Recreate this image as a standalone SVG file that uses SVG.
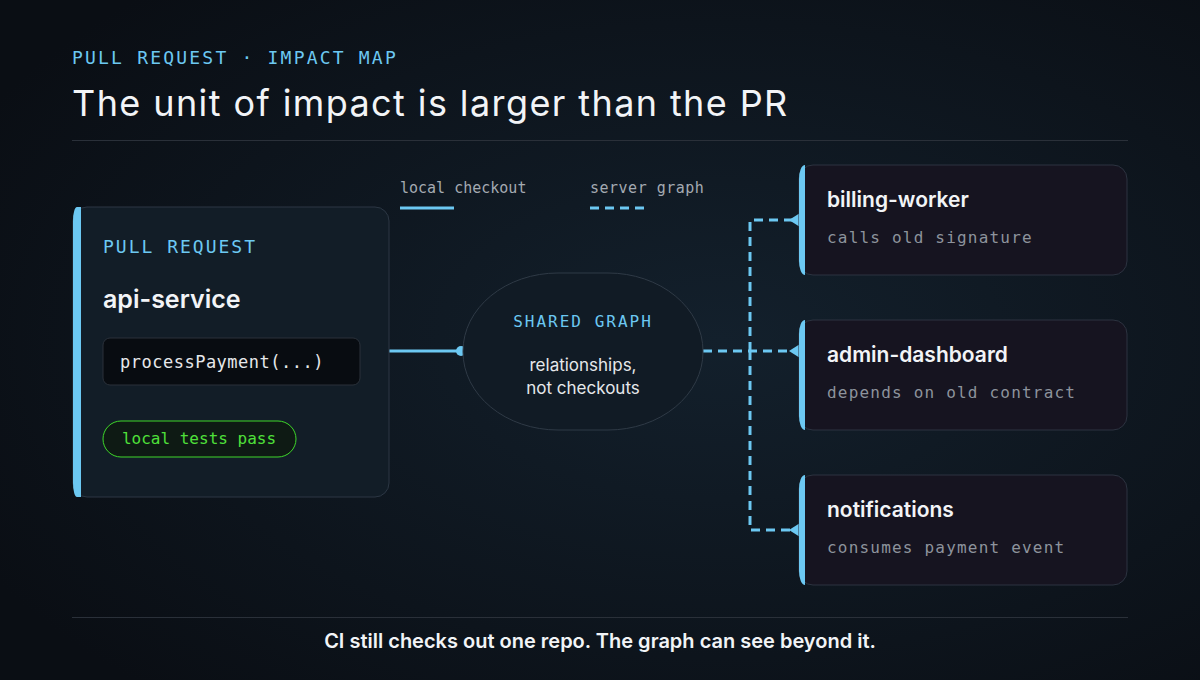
<svg xmlns="http://www.w3.org/2000/svg" width="1200" height="680" viewBox="0 0 1200 680">
<defs>
<radialGradient id="bg" cx="0.6" cy="0.5" r="0.7"><stop offset="0" stop-color="#13202c"/><stop offset="1" stop-color="#0a0e14"/></radialGradient>
<style>
.mono{font-family:"DejaVu Sans Mono","Liberation Mono",monospace}
.sans{font-family:Inter,"Noto Sans",sans-serif}
.card{fill:#161420;stroke:#2c3340;stroke-width:1}
.bar{fill:#6cc8f2}
.dash{stroke:#6cc8f2;stroke-width:3;fill:none;stroke-dasharray:9 6}
.title{font-size:21px;font-weight:600;fill:#f2f4f7}
.sub{font-size:16px;fill:#8d939c;letter-spacing:1.2px}
</style>
</defs>
<rect width="1200" height="680" fill="url(#bg)"/>
<text x="72" y="64" class="mono" font-size="18" fill="#6cc8f2" letter-spacing="2.2">PULL REQUEST · IMPACT MAP</text>
<text x="72" y="116" class="sans" font-size="36" fill="#f2f4f7" letter-spacing="1.4">The unit of impact is larger than the PR</text>
<line x1="72" y1="140.5" x2="1128" y2="140.5" stroke="#2a3039"/>
<text x="400" y="193" class="mono" font-size="15" fill="#a4aab2">local checkout</text>
<line x1="400" y1="208" x2="454" y2="208" stroke="#6cc8f2" stroke-width="3"/>
<text x="590" y="193" class="mono" font-size="15" fill="#a4aab2" letter-spacing="0.5">server graph</text>
<line x1="590" y1="208" x2="644" y2="208" class="dash" stroke-dasharray="8 6"/>
<g id="connectors">
<line x1="389" y1="351" x2="461" y2="351" stroke="#6cc8f2" stroke-width="3"/>
<circle cx="461" cy="351" r="5" fill="#6cc8f2"/>
<line x1="703" y1="351" x2="792" y2="351" class="dash"/>
<path d="M750,351 V220 H792" class="dash"/>
<path d="M750,351 V530 H792" class="dash"/>
<polygon points="789,220 800,213 800,227" fill="#6cc8f2"/>
<polygon points="789,351 800,344 800,358" fill="#6cc8f2"/>
<polygon points="789,530 800,523 800,537" fill="#6cc8f2"/>
</g>
<g id="pr">
<rect x="73" y="207" width="316" height="290" rx="14" fill="#121d27" stroke="#2c3744"/>
<path d="M77,207 h4 v290 h-4 a4,14 0 0 1 -4,-14 v-262 a4,14 0 0 1 4,-14z" class="bar"/>
<text x="103" y="253" class="mono" font-size="18" fill="#6cc8f2" letter-spacing="2">PULL REQUEST</text>
<text x="103" y="308" class="sans" font-size="25" font-weight="600" fill="#f2f4f7">api-service</text>
<rect x="103" y="338" width="257" height="47" rx="7" fill="#080c11" stroke="#2a313a"/>
<text x="120" y="368" class="mono" font-size="17" fill="#e6e8eb" letter-spacing="0.5">processPayment(...)</text>
<rect x="103" y="421" width="193" height="36" rx="18" fill="#0e1a14" stroke="#3ed62a"/>
<text x="199" y="444" class="mono" font-size="16" fill="#4fe03a" text-anchor="middle">local tests pass</text>
</g>
<g id="shared">
<rect x="463" y="273" width="240" height="157" rx="95" ry="78" fill="#111b25" stroke="#2f3a46"/>
<text x="583" y="327" class="mono" font-size="16" fill="#6cc8f2" letter-spacing="2" text-anchor="middle">SHARED GRAPH</text>
<text x="583" y="371" class="sans" font-size="17" fill="#e6e8eb" text-anchor="middle">relationships,</text>
<text x="583" y="394" class="sans" font-size="17" fill="#e6e8eb" text-anchor="middle">not checkouts</text>
</g>
<g id="billing">
<rect x="799" y="165" width="328" height="110" rx="14" class="card"/>
<path d="M805,165 a6,14 0 0 0 -6,14 v82 a6,14 0 0 0 6,14z" class="bar"/>
<text x="827" y="207" class="sans title">billing-worker</text>
<text x="827" y="243" class="mono sub">calls old signature</text>
</g>
<g id="admin">
<rect x="799" y="320" width="328" height="110" rx="14" class="card"/>
<path d="M805,320 a6,14 0 0 0 -6,14 v82 a6,14 0 0 0 6,14z" class="bar"/>
<text x="827" y="362" class="sans title">admin-dashboard</text>
<text x="827" y="398" class="mono sub">depends on old contract</text>
</g>
<g id="notifications">
<rect x="799" y="475" width="328" height="110" rx="14" class="card"/>
<path d="M805,475 a6,14 0 0 0 -6,14 v82 a6,14 0 0 0 6,14z" class="bar"/>
<text x="827" y="517" class="sans title">notifications</text>
<text x="827" y="553" class="mono sub">consumes payment event</text>
</g>
<line x1="72" y1="617.5" x2="1128" y2="617.5" stroke="#2a3039"/>
<text x="600" y="648" class="sans" font-size="20" font-weight="600" fill="#f2f4f7" text-anchor="middle">CI still checks out one repo. The graph can see beyond it.</text>
</svg>
